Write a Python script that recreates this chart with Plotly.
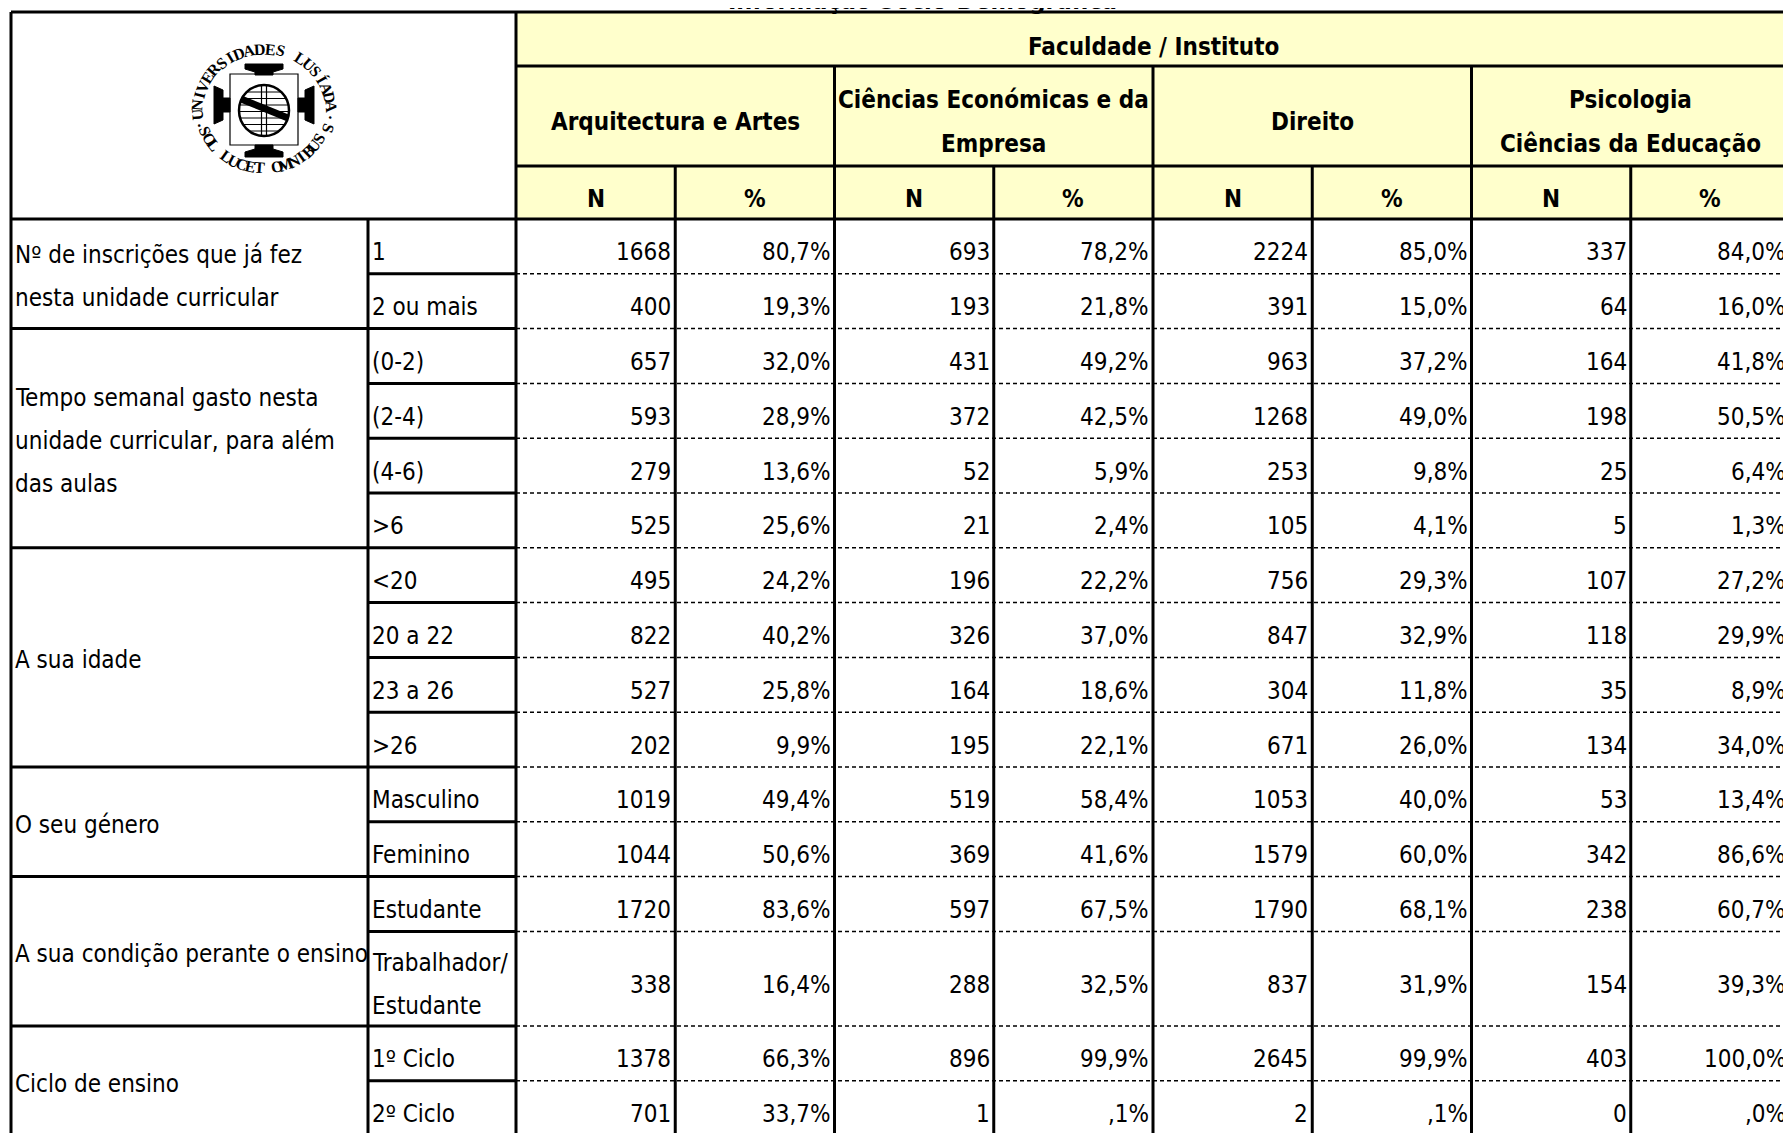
import math
import plotly.graph_objects as go

# ---------------- data ----------------
title_text = "Informação Sócio-Demográfica"
header_top = "Faculdade / Instituto"
faculties = [["Arquitectura e Artes"],
             ["Ciências Económicas e da", "Empresa"],
             ["Direito"],
             ["Psicologia", "Ciências da Educação"]]
stat_headers = ["N", "%"]

question_labels = [
    ["Nº de inscrições que já fez", "nesta unidade curricular"],
    ["Tempo semanal gasto nesta", "unidade curricular, para além", "das aulas"],
    ["A sua idade"],
    ["O seu género"],
    ["A sua condição perante o ensino"],
    ["Ciclo de ensino"],
]
question_sizes = [2, 4, 4, 2, 2, 2]
answer_labels = [["1"], ["2 ou mais"], ["(0-2)"], ["(2-4)"], ["(4-6)"], [">6"],
                 ["<20"], ["20 a 22"], ["23 a 26"], [">26"],
                 ["Masculino"], ["Feminino"],
                 ["Estudante"], ["Trabalhador/", "Estudante"],
                 ["1º Ciclo"], ["2º Ciclo"]]

arq_n = [1668, 400, 657, 593, 279, 525, 495, 822, 527, 202, 1019, 1044, 1720, 338, 1378, 701]
arq_pct = [80.7, 19.3, 32.0, 28.9, 13.6, 25.6, 24.2, 40.2, 25.8, 9.9, 49.4, 50.6, 83.6, 16.4, 66.3, 33.7]
cee_n = [693, 193, 431, 372, 52, 21, 196, 326, 164, 195, 519, 369, 597, 288, 896, 1]
cee_pct = [78.2, 21.8, 49.2, 42.5, 5.9, 2.4, 22.2, 37.0, 18.6, 22.1, 58.4, 41.6, 67.5, 32.5, 99.9, 0.1]
dir_n = [2224, 391, 963, 1268, 253, 105, 756, 847, 304, 671, 1053, 1579, 1790, 837, 2645, 2]
dir_pct = [85.0, 15.0, 37.2, 49.0, 9.8, 4.1, 29.3, 32.9, 11.8, 26.0, 40.0, 60.0, 68.1, 31.9, 99.9, 0.1]
psi_n = [337, 64, 164, 198, 25, 5, 107, 118, 35, 134, 53, 342, 238, 154, 403, 0]
psi_pct = [84.0, 16.0, 41.8, 50.5, 6.4, 1.3, 27.2, 29.9, 8.9, 34.0, 13.4, 86.6, 60.7, 39.3, 100.0, 0.0]

logo_ring_top = "UNIVERSIDADES LUSÍADA"
logo_ring_bottom = "SOL LUCET OMNIBUS"

# ---------------- layout constants ----------------
W, H = 1791, 1133
PAGE_OFF = 8          # default body margin of the html page
X_L, X_Q, X_A, X_R = 11, 368, 516, 1790
COL_W = (X_R - X_A) / 8
Y_T = 12
HEAD_H = [54, 100, 53]
ROW_H = [54.8] * 13 + [94.6, 54.8, 54.8]
FONT = "DejaVu Sans Condensed, Liberation Sans Narrow, Tahoma, sans-serif"
FS = 24
THICK = 3
YELLOW = "#FFFFCC"


def fmt_pct(v):
    s = f"{v:.1f}".replace(".", ",")
    if s.startswith("0,"):
        s = s[1:]
    return s + "%"


columns = [(arq_n, arq_pct), (cee_n, cee_pct), (dir_n, dir_pct), (psi_n, psi_pct)]

hy = [Y_T]
for h in HEAD_H:
    hy.append(hy[-1] + h)
ry = [hy[-1]]
for h in ROW_H:
    ry.append(ry[-1] + h)
col_x = [X_A + k * COL_W for k in range(9)]

shapes = []
annotations = []


def hline(y, x0, x1, width=THICK, dash=None):
    ln = dict(color="black", width=width)
    if dash:
        ln["dash"] = dash
    shapes.append(dict(type="line", xref="x", yref="y", x0=x0, x1=x1, y0=y, y1=y, line=ln))


def vline(x, y0, y1, width=THICK):
    shapes.append(dict(type="line", xref="x", yref="y", x0=x, x1=x, y0=y0, y1=y1,
                       line=dict(color="black", width=width)))


def text(x, y, s, xanchor="left", bold=False, size=FS, family=FONT, angle=0):
    annotations.append(dict(x=x, y=y, xref="x", yref="y", text=s, showarrow=False,
                            xanchor=xanchor, yanchor="middle", textangle=angle,
                            font=dict(family=family, size=size, color="black",
                                      weight="bold" if bold else "normal")))


# header fill
shapes.append(dict(type="rect", xref="x", yref="y", x0=X_A, x1=X_R, y0=Y_T, y1=hy[3],
                   fillcolor=YELLOW, line=dict(width=0), layer="below"))

# horizontal lines: header
hline(Y_T, X_L, X_R)
hline(hy[1], X_A, X_R)
hline(hy[2], X_A, X_R)
hline(hy[3], X_L, X_R)

# data rows
group_ends = []
acc = 0
for s in question_sizes:
    acc += s
    group_ends.append(acc)
for i in range(1, len(ROW_H)):
    y = ry[i]
    if i in group_ends:
        hline(y, X_L, X_A)
    else:
        hline(y, X_Q, X_A)
    hline(y, X_A, X_R, width=1.5, dash="4px,3px")

# vertical lines
vline(X_L, Y_T, H + 10)
vline(X_A, Y_T, H + 10)
vline(X_Q, hy[3], H + 10)
for k in range(1, 8):
    vline(col_x[k], hy[1] if k % 2 == 0 else hy[2], H + 10)
vline(X_R, Y_T, H + 10, width=2)

# header texts
text((X_A + X_R) / 2, (hy[0] + hy[1]) / 2 + 8, header_top, "center", bold=True)
for g, lines in enumerate(faculties):
    cx = (col_x[2 * g] + col_x[2 * g + 2]) / 2
    cy = (hy[1] + hy[2]) / 2 + 6
    n = len(lines)
    for j, ln in enumerate(lines):
        text(cx, cy + (j - (n - 1) / 2) * 43.5, ln, "center", bold=True)
for k in range(8):
    text((col_x[k] + col_x[k + 1]) / 2, (hy[2] + hy[3]) / 2 + 6, stat_headers[k % 2], "center", bold=True)

# question labels
start = 0
for lines, s in zip(question_labels, question_sizes):
    cy = (ry[start] + ry[start + s]) / 2 + 3
    n = len(lines)
    for j, ln in enumerate(lines):
        text(X_L + 2, cy + (j - (n - 1) / 2) * 43, ln, "left")
    start += s

# answer labels and values
for i, lines in enumerate(answer_labels):
    cy = (ry[i] + ry[i + 1]) / 2 + 6
    n = len(lines)
    for j, ln in enumerate(lines):
        text(X_Q + 2, cy + (j - (n - 1) / 2) * 43, ln, "left")
    for g, (nv, pv) in enumerate(columns):
        text(col_x[2 * g + 1] - 2, cy, str(nv[i]), "right")
        text(col_x[2 * g + 2] - 2, cy, fmt_pct(pv[i]), "right")

# title (cut by the top edge of the page, as in the source) - paper coordinates
TITLE_PAGE_Y = 1
annotations.append(dict(x=(923 - PAGE_OFF) / W, y=1 - (TITLE_PAGE_Y - PAGE_OFF) / H,
                        xref="paper", yref="paper", text=title_text, showarrow=False,
                        xanchor="center", yanchor="middle",
                        font=dict(family=FONT, size=25, color="black", weight="bold")))

# ---------------- logo ----------------
LCX, LCY, LRX, LRY = 264, 110, 67, 61
SERIF = "Liberation Serif, DejaVu Serif, serif"


def ring_char(theta, ch, top=True):
    t = math.radians(theta)
    rr = 1.0 if top else 0.95
    x = LCX + LRX * rr * math.cos(t)
    y = LCY - LRY * rr * math.sin(t)
    ang = (90 - theta) if top else (270 - theta)
    text(x, y, ch, "center", bold=True, size=16, family=SERIF, angle=ang)


n = len(logo_ring_top)
for j, ch in enumerate(logo_ring_top):
    if ch != " ":
        ring_char(184 - j * (181 / (n - 1)), ch, True)
ring_char(195, "·", True)
ring_char(-7, "·", True)
ring_char(-17, "S", True)
n = len(logo_ring_bottom)
for j, ch in enumerate(logo_ring_bottom):
    if ch != " ":
        ring_char(202 + j * (128 / (n - 1)), ch, False)

# frame
shapes.append(dict(type="rect", xref="x", yref="y", x0=230, x1=298, y0=74, y1=145,
                   line=dict(color="black", width=1.2)))
# anvils and side pieces
for p in ["M 245,64 L 283,64 L 283,69 L 273,72 L 273,75 L 255,75 L 255,72 L 245,69 Z",
          "M 255,145 L 273,145 L 273,149 L 283,152 L 283,157 L 245,157 L 245,152 L 255,149 Z",
          "M 214,86 L 223,90 L 223,98 L 230,98 L 230,112 L 223,112 L 223,120 L 214,124 Z",
          "M 314,86 L 305,90 L 305,98 L 298,98 L 298,112 L 305,112 L 305,120 L 314,124 Z"]:
    shapes.append(dict(type="path", xref="x", yref="y", path=p, fillcolor="black",
                       line=dict(color="black", width=1)))
# globe
GX0, GX1, GY0, GY1 = 239, 289, 85, 136
shapes.append(dict(type="circle", xref="x", yref="y", x0=GX0, x1=GX1, y0=GY0, y1=GY1,
                   fillcolor="white", line=dict(color="black", width=2.5)))
gcx, gcy, grx, gry = (GX0 + GX1) / 2, (GY0 + GY1) / 2, (GX1 - GX0) / 2, (GY1 - GY0) / 2
for yy in [92, 98.5, 105, 111.5, 118, 124.5, 131]:
    hw = grx * math.sqrt(max(0.0, 1 - ((yy - gcy) / gry) ** 2))
    hline(yy, gcx - hw, gcx + hw, width=1)
vline(gcx - 2.5, GY0, GY1, width=1.2)
vline(gcx + 2.5, GY0, GY1, width=1.2)
shapes.append(dict(type="line", xref="x", yref="y", x0=241, y0=99, x1=288, y1=118,
                   line=dict(color="black", width=7)))

fig = go.Figure()
fig.add_trace(go.Scatter(x=[PAGE_OFF, W], y=[PAGE_OFF, H], mode="markers", marker=dict(opacity=0),
                         hoverinfo="skip", showlegend=False))
fig.update_layout(
    width=W, height=H, margin=dict(l=0, r=0, t=0, b=0),
    paper_bgcolor="white", plot_bgcolor="white",
    xaxis=dict(range=[PAGE_OFF, PAGE_OFF + W], visible=False, fixedrange=True),
    yaxis=dict(range=[PAGE_OFF + H, PAGE_OFF], visible=False, fixedrange=True),
    shapes=shapes, annotations=annotations, showlegend=False,
)
fig.write_html("out.html")
